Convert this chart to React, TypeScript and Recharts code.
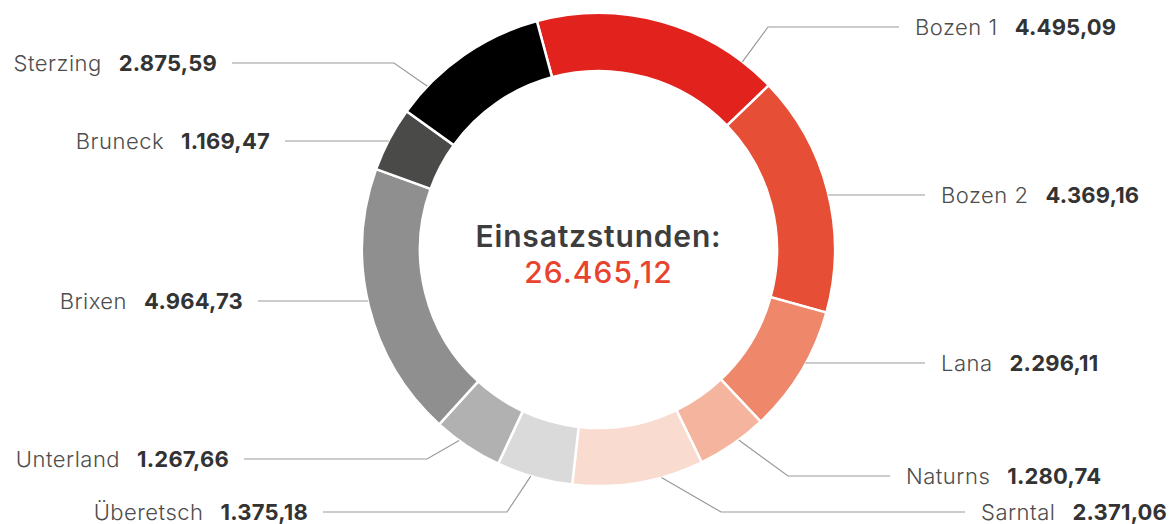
import React from 'react';
import { PieChart, Pie, Cell, Label } from 'recharts';

const regions = ['Bozen 1', 'Bozen 2', 'Lana', 'Naturns', 'Sarntal', 'Überetsch', 'Unterland', 'Brixen', 'Bruneck', 'Sterzing'];
const hours = [4495.09, 4369.16, 2296.11, 1280.74, 2371.06, 1375.18, 1267.66, 4964.73, 1169.47, 2875.59];
const colors = ['#E2231D', '#E64E36', '#EF876B', '#F5B49E', '#FADBD0', '#DADADA', '#B1B1B1', '#8F8F8F', '#4A4A48', '#000000'];
const totalTitle = 'Einsatzstunden:';
const totalHours = 26465.12;

const data = regions.map((name, i) => ({ name, value: hours[i] }));

// german number format: 4.495,09
const fmt = (n: number) => {
  const [int, dec] = n.toFixed(2).split('.');
  return int.replace(/\B(?=(\d{3})+(?!\d))/g, '.') + ',' + dec;
};

const CX = 598.5;
const CY = 249.5;
const RAD = Math.PI / 180;
const FONT = 'Inter, "Open Sans", sans-serif';

// hand placed label layout: line y, end of the horizontal line, optional elbow x, anchor nudge (deg, clockwise)
const labelLayout = [
  { y: 27, end: 899, elbow: 768, nudge: 22 },
  { y: 195, end: 925, nudge: 0.9 },
  { y: 363, end: 925, nudge: -2.3 },
  { y: 476, end: 890, elbow: 788, nudge: -1.8 },
  { y: 512, end: 965, elbow: 721, nudge: -5.7 },
  { y: 512, end: 323, elbow: 507, nudge: 0.9 },
  { y: 459, end: 244, elbow: 427, nudge: 2.4 },
  { y: 301, end: 258, nudge: 1.4 },
  { y: 141, end: 285, nudge: -0.5 },
  { y: 63, end: 232, elbow: 394, nudge: -11.7 },
];

const renderLabel = (props: any) => {
  const { cx, cy, midAngle, outerRadius, index, name, value } = props;
  const lay = labelLayout[index];
  const a = (midAngle - lay.nudge) * RAD;
  const ax = cx + outerRadius * Math.cos(-a);
  const ay = cy + outerRadius * Math.sin(-a);
  const right = lay.end > cx;
  const ex = lay.elbow ?? ax;
  const path = `M${ax},${ay}L${ex},${lay.y}L${lay.end},${lay.y}`;
  const tx = right ? lay.end + 16 : lay.end - 15;
  return (
    <g key={'lbl' + index}>
      <path d={path} stroke="#9a9a9a" strokeWidth={1.2} fill="none" />
      <text
        x={tx}
        y={lay.y + 8}
        textAnchor={right ? 'start' : 'end'}
        fontFamily={FONT}
        fontSize={22}
      >
        <tspan fill="#4d4d4d" fontWeight={300} letterSpacing={0.5}>{name}</tspan>
        <tspan dx={17} fill="#333333" fontWeight={700} letterSpacing={0.2}>{fmt(value)}</tspan>
      </text>
    </g>
  );
};

const CenterText = () => (
  <g>
    <text x={CX} y={247} textAnchor="middle" fontFamily={FONT} fontSize={30} fontWeight={600} fill="#3d3d3d" letterSpacing={0.8}>
      {totalTitle}
    </text>
    <text x={CX} y={283} textAnchor="middle" fontFamily={FONT} fontSize={30} fontWeight={500} fill="#E8432E" letterSpacing={1}>
      {fmt(totalHours)}
    </text>
  </g>
);

export default function App() {
  return (
    <div style={{ position: 'absolute', left: 0, top: 0, width: 1171, height: 524 }}>
      <PieChart width={1171} height={524} margin={{ top: 0, right: 0, bottom: 0, left: 0 }}>
        <Pie
          data={data}
          dataKey="value"
          nameKey="name"
          cx={CX}
          cy={CY}
          innerRadius={178.5}
          outerRadius={236.5}
          startAngle={105.1}
          endAngle={-254.9}
          stroke="#ffffff"
          strokeWidth={2.5}
          label={renderLabel}
          labelLine={false}
          isAnimationActive={false}
        >
          {data.map((d, i) => (
            <Cell key={d.name} fill={colors[i]} />
          ))}
          <Label position="center" content={() => <CenterText />} />
        </Pie>
      </PieChart>
    </div>
  );
}
